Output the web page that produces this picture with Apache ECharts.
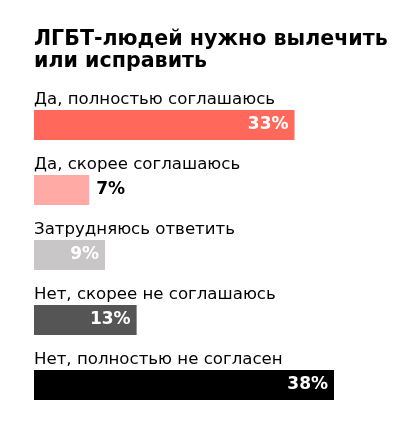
<!DOCTYPE html>
<html>
<head>
<meta charset="utf-8">
<script src="https://cdn.jsdelivr.net/npm/echarts@6/dist/echarts.min.js"></script>
<style>
  html, body { margin: 0; padding: 0; background: #fff; }
  #chart { width: 417px; height: 433px; }
</style>
</head>
<body>
<div id="chart"></div>
<script>
var titleText = 'ЛГБТ-людей нужно вылечить\nили исправить';
var categories = [
    'Да, полностью соглашаюсь',
    'Да, скорее соглашаюсь',
    'Затрудняюсь ответить',
    'Нет, скорее не соглашаюсь',
    'Нет, полностью не согласен'
];
var values = [33, 7, 9, 13, 38];
var barColors = ['#ff685b', '#ffaaa5', '#c8c6c6', '#555555', '#000000'];

var fontFamily = '"DejaVu Sans", sans-serif';

var chart = echarts.init(document.getElementById('chart'));

var seriesData = values.map(function (v, i) {
    var item = {
        value: v,
        itemStyle: {color: barColors[i]}
    };
    // short bar: label goes outside, in black
    if (v < 8) {
        item.label = {position: 'right', distance: 7, color: '#000'};
    }
    return item;
});

var option = {
    animation: false,
    title: {
        text: titleText,
        left: 29,
        top: 24,
        textStyle: {
            fontFamily: fontFamily,
            fontSize: 20.6,
            fontWeight: 'bold',
            lineHeight: 22,
            color: '#000'
        }
    },
    grid: {
        left: 34,
        right: 83,
        top: 92.5,
        bottom: 15.5
    },
    xAxis: {
        type: 'value',
        min: 0,
        max: 38,
        show: false
    },
    yAxis: {
        type: 'category',
        inverse: true,
        data: categories,
        axisLine: {show: false},
        axisTick: {show: false},
        axisLabel: {
            inside: true,
            margin: 0,
            align: 'left',
            verticalAlign: 'bottom',
            padding: [0, 0, 17, 0],
            fontFamily: fontFamily,
            fontSize: 16.6,
            color: '#000'
        }
    },
    series: [{
        type: 'bar',
        barWidth: 30,
        data: seriesData,
        label: {
            show: true,
            position: 'insideRight',
            distance: 6,
            formatter: '{c}%',
            fontFamily: fontFamily,
            fontSize: 17,
            fontWeight: 'bold',
            color: '#fff'
        }
    }]
};

chart.setOption(option);
</script>
</body>
</html>
